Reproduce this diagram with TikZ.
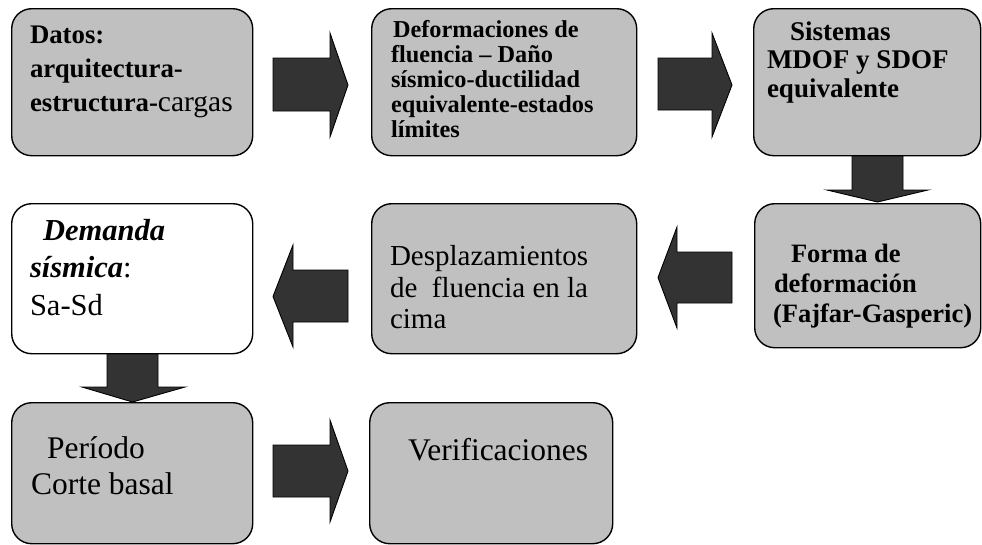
\documentclass[tikz,border=0pt]{standalone}
\usepackage{fontspec}
\setmainfont{Liberation Serif}
\definecolor{boxgray}{HTML}{C0C0C0}
\definecolor{arrowgray}{HTML}{333333}
\begin{document}
\begin{tikzpicture}[x=1pt,y=-1pt,
  box/.style={draw=black, line width=1.4pt, fill=boxgray, rounded corners=20pt, anchor=north west, inner sep=0pt},
  whitebox/.style={box, fill=white},
  blk/.style={draw=black, line width=0.9pt, fill=arrowgray, line join=miter},
  txt/.style={anchor=base west, inner sep=0pt, outer sep=0pt},
  fdatos/.style={font=\fontsize{26.8}{30}\selectfont\bfseries},
  fdef/.style={font=\fontsize{24.3}{26}\selectfont\bfseries},
  fsis/.style={font=\fontsize{27}{30}\selectfont\bfseries},
  fforma/.style={font=\fontsize{26.5}{30}\selectfont\bfseries},
  freg/.style={font=\fontsize{29}{32}\selectfont},
  fbig/.style={font=\fontsize{31.5}{34}\selectfont},
  fdem/.style={font=\fontsize{30.5}{34}\selectfont},
]
\useasboundingbox (0,0) rectangle (982,544);

% block arrows (drawn first, boxes on top)
\draw[blk] (273,58)--(330,58)--(330,33)--(348,85)--(330,137)--(330,111)--(273,111)--cycle;
\draw[blk] (658,58)--(712,58)--(712,33)--(732,85)--(712,137)--(712,110)--(658,110)--cycle;
\draw[blk] (852,150)--(852,190)--(827,190)--(877.5,202)--(928,190)--(903,190)--(903,150)--cycle;
\draw[blk] (732,252)--(677,252)--(677,227)--(658,277.5)--(677,328)--(677,303)--(732,303)--cycle;
\draw[blk] (348,270)--(293,270)--(293,245)--(273,296.5)--(293,347)--(293,322)--(348,322)--cycle;
\draw[blk] (107,348)--(107,387)--(82,387)--(132.5,402)--(185,387)--(158,387)--(158,348)--cycle;
\draw[blk] (273,445)--(330,445)--(330,420)--(348,471)--(330,522)--(330,497)--(273,497)--cycle;

% boxes
\node[box, minimum width=241pt, minimum height=147pt] (b1) at (11,8) {};
\node[box, minimum width=265pt, minimum height=147pt] (b2) at (371,8) {};
\node[box, minimum width=227pt, minimum height=147pt] (b3) at (753,8) {};
\node[box, minimum width=226pt, minimum height=144pt] (b4) at (754,203) {};
\node[box, minimum width=265pt, minimum height=150pt] (b5) at (371,203) {};
\node[whitebox, minimum width=241pt, minimum height=150pt] (b6) at (11,203) {};
\node[box, minimum width=241pt, minimum height=141pt] (b7) at (11,402) {};
\node[box, minimum width=243pt, minimum height=141pt] (b8) at (369,402) {};

% texts box 1
\node[txt, fdatos] (t1a) at (30,43) {Datos:};
\node[txt, fdatos] (t1b) at (30,77) {arquitectura-};
\node[txt, fdatos] (t1c) at (30,111) {estructura-{\fontsize{29.5}{32}\selectfont\mdseries cargas}};

% texts box 2
\node[txt, fdef] (t2a) at (393,37.5) {Deformaciones de};
\node[txt, fdef] (t2b) at (391,62.5) {fluencia – Daño};
\node[txt, fdef] (t2c) at (391,87.5) {sísmico-ductilidad};
\node[txt, fdef] (t2d) at (391,112.5) {equivalente-estados};
\node[txt, fdef] (t2e) at (391,137) {límites};

% texts box 3
\node[txt, fsis] (t3a) at (790,40) {Sistemas};
\node[txt, fsis] (t3b) at (767,68) {MDOF y SDOF};
\node[txt, fsis] (t3c) at (767,97) {equivalente};

% texts box 4
\node[txt, fforma] (t4a) at (791,262) {Forma de};
\node[txt, fforma] (t4b) at (774,292) {deformación};
\node[txt, fforma] (t4c) at (773,322) {(Fajfar-Gasperic)};

% texts box 5
\node[txt, freg] (t5a) at (390,265) {Desplazamientos};
\node[txt, freg] (t5b) at (390,297) {de\ \ fluencia en la};
\node[txt, freg] (t5c) at (390,328) {cima};

% texts box 6
\node[txt, fdem] (t6a) at (43,240) {\textbf{\textit{Demanda}}};
\node[txt, fdem] (t6b) at (30,277) {\textbf{\textit{sísmica}}:};
\node[txt, fdem] (t6c) at (30,315) {Sa-Sd};

% texts box 7
\node[txt, fbig] (t7a) at (47,458) {Período};
\node[txt, fbig] (t7b) at (31,494) {Corte basal};

% text box 8
\node[txt, fbig] (t8a) at (408,460) {Verificaciones};
\end{tikzpicture}
\end{document}
